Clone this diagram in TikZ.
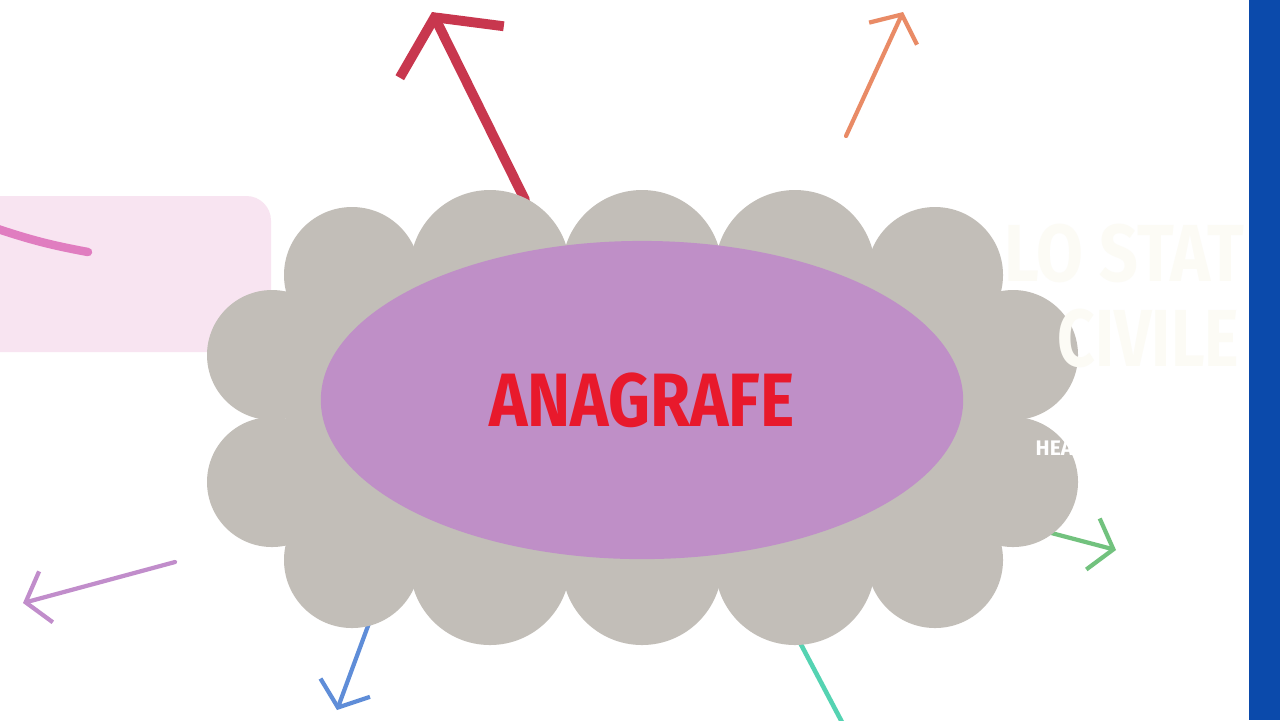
\documentclass[tikz,border=0pt]{standalone}
\usepackage{fontspec}
\setmainfont{Fira Sans}
\usetikzlibrary{arrows.meta,shapes.geometric}
\definecolor{cardpink}{HTML}{F8E4F1}
\definecolor{pinkink}{HTML}{E07DC0}
\definecolor{redink}{HTML}{C8374E}
\definecolor{orangeink}{HTML}{E98B66}
\definecolor{greenink}{HTML}{72C27E}
\definecolor{blueink}{HTML}{5F8DD8}
\definecolor{tealink}{HTML}{55D3B2}
\definecolor{lilacink}{HTML}{C18DCB}
\definecolor{cloudgray}{HTML}{C2BEB8}
\definecolor{coreviolet}{HTML}{BF8FC7}
\definecolor{titlered}{HTML}{E8192C}
\definecolor{faintwhite}{HTML}{FCFBF5}
\definecolor{barblue}{HTML}{0B4AAB}

\begin{document}
\begin{tikzpicture}[x=0.01cm,y=-0.01cm]
		\tikzstyle{doodle}=[line width=1.2pt,line cap=round,-{Straight Barb[length=6pt,width=15pt]}]
		\tikzstyle{puff}=[fill=cloudgray]
		\tikzstyle{core}=[ellipse,fill=coreviolet,minimum width=6.42cm,minimum height=3.18cm]
		\tikzstyle{faint}=[text=faintwhite,inner sep=0pt,anchor=west,font=\fontsize{23}{23}\selectfont\bfseries]
		\useasboundingbox (0,0) rectangle (1280,720);
		\fill[white] (0,0) rectangle (1280,720);
		% pink card on the left
		\fill[cardpink,rounded corners=7pt] (-30,196) rectangle (271,352);
		\coordinate (s0) at (-5,228);
		\coordinate (s1) at (88,252);
		\draw[pinkink,line width=2.4pt,line cap=round] (s0) to[bend right=4] (s1);
		% arrows leaving the cloud
		\coordinate (r0) at (525,200);
		\coordinate (r1) at (432,12);
		\draw[doodle,redink,line width=2.8pt,-{Straight Barb[length=11pt,width=33pt]}] (r0) -- (r1);
		\node[text=white,inner sep=0pt,font=\fontsize{5}{5}\selectfont\bfseries] (ests) at (442,6) {ESTS};
		\coordinate (o0) at (846,136);
		\coordinate (o1) at (903,12);
		\draw[doodle,orangeink] (o0) -- (o1);
		\coordinate (g0) at (1040,530);
		\coordinate (g1) at (1116,550);
		\draw[doodle,greenink] (g0) -- (g1);
		\coordinate (b0) at (372,615);
		\coordinate (b1) at (337,710);
		\draw[doodle,blueink] (b0) -- (b1);
		\coordinate (t0) at (796,635);
		\coordinate (t1) at (843,724);
		\draw[tealink,line width=1.3pt] (t0) -- (t1);
		\coordinate (l0) at (175,562);
		\coordinate (l1) at (23,603);
		\draw[doodle,lilacink] (l0) -- (l1);
		% the cloud
		\foreach \cx/\cy/\r in {352/275/68,490/270/80,642/270/80,795/270/80,935/275/68,
			352/560/68,490/565/80,642/565/80,795/565/80,935/560/68,
			272/355/65,272/482/65,1013/355/65,1013/482/65}
			\fill[puff] (\cx,\cy) circle[radius=\r];
		\fill[puff] (286,280) rectangle (1000,560);
		\node[core] (core) at (642,400) {};
		\node[text=titlered,font=\fontsize{21.5}{21.5}\selectfont\bfseries] (title) at (core) {\scalebox{0.86}[1]{ANAGRAFE}};
		% faded labels on the right
		\node[faint] (state) at (1004,253) {\scalebox{0.84}[1]{LO STAT}};
		\node[faint] (civil) at (1057,338) {\scalebox{0.81}[1]{CIVILE}};
		\node[text=white,inner sep=0pt,anchor=west,font=\fontsize{6}{6}\selectfont\bfseries] (hea) at (1035,448) {HEA};
		\fill[barblue] (1249,0) rectangle (1280,720);
		\end{tikzpicture}
\end{document}
